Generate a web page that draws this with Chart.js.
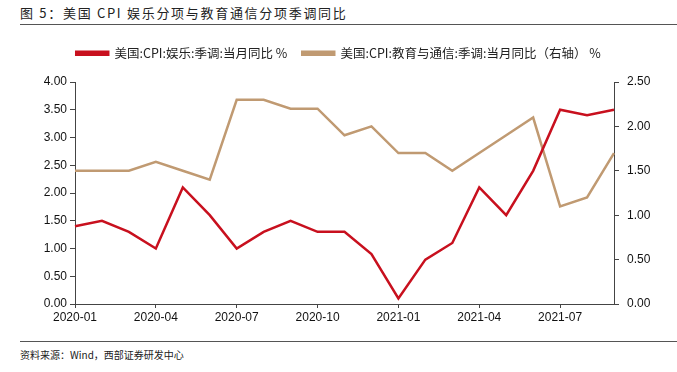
<!DOCTYPE html>
<html>
<head>
<meta charset="utf-8">
<script src="https://cdn.jsdelivr.net/npm/chart.js@4.4.0/dist/chart.umd.min.js"></script>
<style>
  body { margin: 0; width: 677px; height: 372px; background: #fff; position: relative; overflow: hidden; font-family: "Noto Sans CJK SC", sans-serif; }
  #titulo { position: absolute; left: 20px; top: 3px; font-size: 13px; color: #222; letter-spacing: 1.7px; }
  #linea1 { position: absolute; left: 20px; right: 0; top: 24px; border-top: 1px solid #555; }
  #linea2 { position: absolute; left: 20px; right: 0; top: 341px; border-top: 1px solid #555; }
  #fuente { position: absolute; left: 20px; top: 347px; font-size: 10px; color: #222; }
  #caja { position: absolute; left: 0; top: 32px; width: 677px; height: 305px; }
</style>
</head>
<body>
<div id="titulo">图 5：美国 CPI 娱乐分项与教育通信分项季调同比</div>
<div id="linea1"></div>
<div id="caja"><canvas id="grafico"></canvas></div>
<div id="linea2"></div>
<div id="fuente">资料来源：Wind，西部证券研发中心</div>
<script>
meses = ["2020-01","2020-02","2020-03","2020-04","2020-05","2020-06","2020-07","2020-08","2020-09","2020-10","2020-11","2020-12",
         "2021-01","2021-02","2021-03","2021-04","2021-05","2021-06","2021-07","2021-08","2021-09"]
ocio = [1.4,1.5,1.3,1.0,2.1,1.6,1.0,1.3,1.5,1.3,1.3,0.9,0.1,0.8,1.1,2.1,1.6,2.4,3.5,3.4,3.5]
educacion = [1.5,1.5,1.5,1.6,1.5,1.4,2.3,2.3,2.2,2.2,1.9,2.0,1.7,1.7,1.5,1.7,1.9,2.1,1.1,1.2,1.7]
etiqueta1 = "美国:CPI:娱乐:季调:当月同比 %"
etiqueta2 = "美国:CPI:教育与通信:季调:当月同比（右轴） %"

fuenteTicks = { family: "'Liberation Sans', Arial, sans-serif", size: 12 }

// fija el alto de la leyenda para que el area de dibujo empiece donde toca
altoLeyenda = {
  id: "altoLeyenda",
  afterInit: function (chart) {
    var l = chart.legend, fitOrig = l.fit;
    l.fit = function () { fitOrig.call(this); this.height = 50; };
  }
}

new Chart(document.getElementById("grafico").getContext("2d"), {
  type: "line",
  data: {
    labels: meses,
    datasets: [
      { label: etiqueta1, data: ocio, borderColor: "#C8101E", backgroundColor: "#C8101E", borderWidth: 2.5, pointRadius: 0, tension: 0, yAxisID: "y" },
      { label: etiqueta2, data: educacion, borderColor: "#C09A72", backgroundColor: "#C09A72", borderWidth: 2.5, pointRadius: 0, tension: 0, yAxisID: "y2" }
    ]
  },
  options: {
    responsive: true,
    maintainAspectRatio: false,
    animation: false,
    layout: { padding: 0 },
    plugins: {
      tooltip: { enabled: false },
      legend: {
        display: true,
        labels: {
          boxWidth: 32, boxHeight: 3, padding: 15, color: "#222",
          font: { family: "'Noto Sans CJK SC', sans-serif", size: 12.5 }
        }
      }
    },
    scales: {
      x: {
        grid: { drawOnChartArea: false, drawTicks: true, tickLength: 4, color: "#444" },
        border: { display: true, color: "#444" },
        ticks: {
          autoSkip: false, maxRotation: 0, color: "#111", font: fuenteTicks, padding: 2,
          callback: function (v, i) { return i % 3 == 0 ? meses[i] : null }
        },
        afterFit: function (s) { s.height = 33 }
      },
      y: {
        position: "left", min: 0, max: 4,
        grid: { drawOnChartArea: false, drawTicks: true, tickLength: 5, color: "#444" },
        border: { display: true, color: "#444" },
        ticks: { stepSize: 0.5, color: "#111", font: fuenteTicks, padding: 3, callback: function (v) { return v.toFixed(2) } },
        afterFit: function (s) { s.width = 75 }
      },
      y2: {
        position: "right", min: 0, max: 2.5,
        grid: { drawOnChartArea: false, drawTicks: true, tickLength: 5, color: "#444" },
        border: { display: true, color: "#444" },
        ticks: { stepSize: 0.5, color: "#111", font: fuenteTicks, padding: 8, callback: function (v) { return v.toFixed(2) } },
        afterFit: function (s) { s.width = 63 }
      }
    }
  },
  plugins: [altoLeyenda]
});
</script>
</body>
</html>
